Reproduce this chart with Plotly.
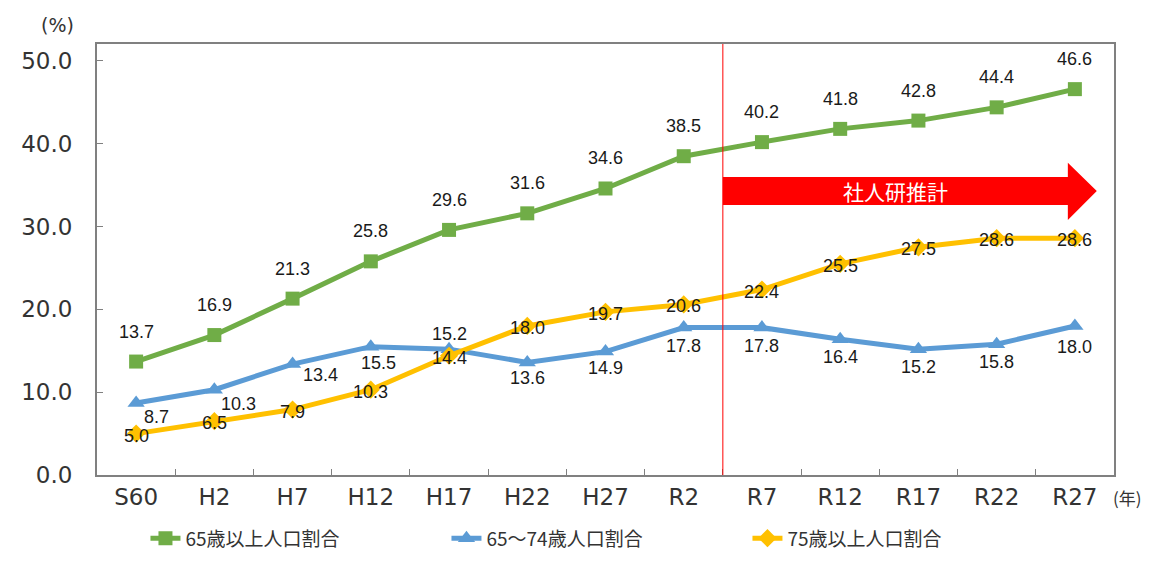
import plotly.graph_objects as go

categories = ["S60", "H2", "H7", "H12", "H17", "H22", "H27", "R2", "R7", "R12", "R17", "R22", "R27"]
age65_plus = [13.7, 16.9, 21.3, 25.8, 29.6, 31.6, 34.6, 38.5, 40.2, 41.8, 42.8, 44.4, 46.6]
age65_74 = [8.7, 10.3, 13.4, 15.5, 15.2, 13.6, 14.9, 17.8, 17.8, 16.4, 15.2, 15.8, 18.0]
age75_plus = [5.0, 6.5, 7.9, 10.3, 14.4, 18.0, 19.7, 20.6, 22.4, 25.5, 27.5, 28.6, 28.6]
y_ticks = [0, 10, 20, 30, 40, 50]

names = ["65歳以上人口割合", "65～74歳人口割合", "75歳以上人口割合"]
colors = ["#70AD47", "#5B9BD5", "#FFC000"]
symbols = ["square", "triangle-up", "diamond"]
msizes = [14, 15, 14]

# label offsets (pixels) per point
green_off = [(0, 30)] * 13
blue_off = [(20, -14), (24, -14), (28, -11), (8, -16), (0, 15), (0, -16), (0, -16),
            (0, -18), (0, -18), (0, -18), (0, -18), (0, -18), (0, -21)]
yellow_off = [(0, -2)] * 13

fig = go.Figure()
series = [age65_plus, age65_74, age75_plus]
offsets = [green_off, blue_off, yellow_off]
for vals, name, col, sym, ms in zip(series, names, colors, symbols, msizes):
    fig.add_trace(go.Scatter(
        x=categories, y=vals, name=name, mode="lines+markers",
        line=dict(color=col, width=5),
        marker=dict(symbol=sym, size=ms, color=col),
        hoverinfo="skip",
    ))

annotations = []
for vals, offs in zip(series, offsets):
    for c, v, (dx, dy) in zip(categories, vals, offs):
        annotations.append(dict(
            x=c, y=v, text=f"{v:.1f}", showarrow=False, xshift=dx, yshift=dy,
            font=dict(family="Liberation Sans", size=18, color="#1a1a1a"),
        ))

# forecast divider and arrow
split = 7.5
head_base = 11.91
tip = 12.28
body_top, body_bot = 36.0, 32.6
head_top, head_bot = 37.7, 30.8
mid_y = (body_top + body_bot) / 2
arrow_path = (f"M {split},{body_top} L {head_base},{body_top} L {head_base},{head_top} "
              f"L {tip},{mid_y} L {head_base},{head_bot} L {head_base},{body_bot} "
              f"L {split},{body_bot} Z")

shapes = [
    dict(type="line", xref="x", yref="paper", x0=split, x1=split, y0=0, y1=1,
         line=dict(color="#FF0000", width=1)),
    dict(type="path", xref="x", yref="y", path=arrow_path,
         fillcolor="#FF0000", line=dict(width=0)),
]

annotations.append(dict(
    x=(split + head_base) / 2, y=mid_y, text="社人研推計", showarrow=False,
    font=dict(family="Noto Sans CJK JP", size=21, color="white"),
))
annotations.append(dict(
    xref="paper", yref="paper", x=-0.039, y=1.044, xanchor="center", yanchor="middle",
    text="(%)", showarrow=False,
    font=dict(family="DejaVu Sans", size=19, color="#333333"),
))
annotations.append(dict(
    xref="paper", yref="paper", x=0.997, y=-0.052, xanchor="left", yanchor="middle",
    text="(年)", showarrow=False,
    font=dict(family="Noto Sans CJK JP", size=17, color="#333333"),
))

fig.update_layout(
    width=1137, height=549,
    margin=dict(l=89, r=31, t=36, b=82),
    paper_bgcolor="white", plot_bgcolor="white",
    showlegend=True,
    legend=dict(orientation="h", xref="container", yref="container",
                x=0.518, xanchor="center", y=0.034, yanchor="middle",
                font=dict(family="Noto Sans CJK JP", size=19, color="#333333"),
                entrywidth=256, entrywidthmode="pixels", tracegroupgap=0),
    shapes=shapes,
    annotations=annotations,
)
fig.update_xaxes(
    type="category", tickson="boundaries", ticks="inside", ticklen=6,
    tickcolor="#808080", showline=True, linecolor="#808080", linewidth=2,
    mirror=True, showgrid=False, zeroline=False, range=[-0.5, 12.5],
    automargin=False,
    tickfont=dict(family="DejaVu Sans", size=23, color="#333333"),
)
fig.update_yaxes(
    range=[0, 52.05], tickvals=y_ticks, ticktext=[f"{t:.1f}" for t in y_ticks],
    ticks="inside", ticklen=6, tickcolor="#808080", ticklabelstandoff=18,
    showline=True, linecolor="#808080", linewidth=2, mirror=True,
    showgrid=False, zeroline=False, automargin=False,
    tickfont=dict(family="DejaVu Sans", size=23, color="#333333"),
)

fig.write_html("out.html")
